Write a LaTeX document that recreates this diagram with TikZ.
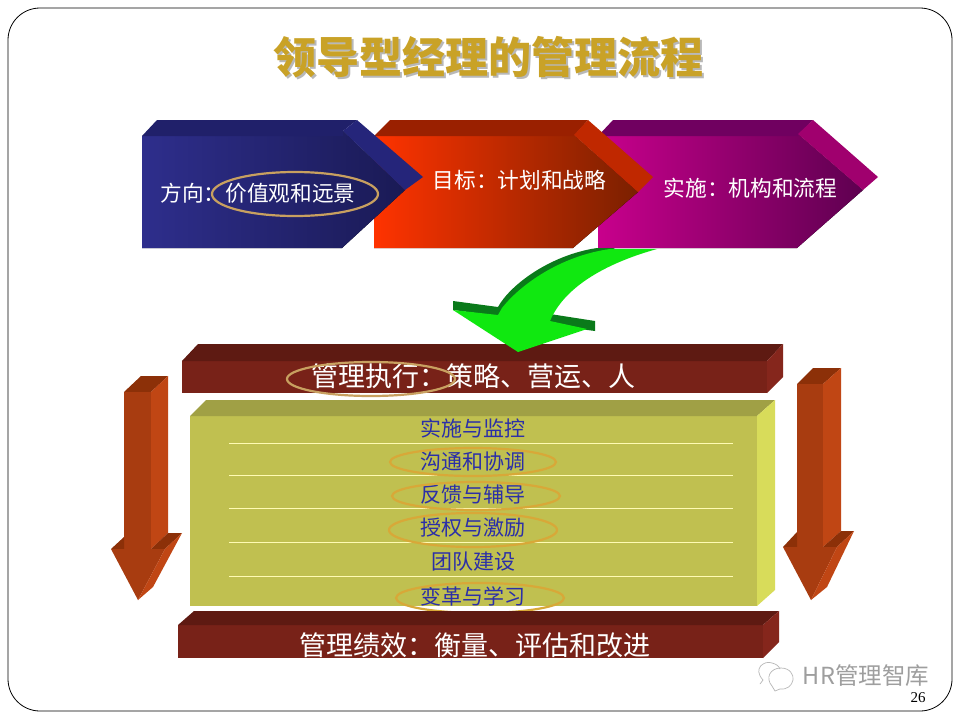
\documentclass[tikz,border=0pt]{standalone}
\usepackage{fontspec}
\setmainfont{Noto Sans CJK SC}
\newfontfamily\numfont{Liberation Serif}
\usetikzlibrary{shapes.geometric}

\definecolor{barTop}{HTML}{5E1A12}
\definecolor{barFront}{HTML}{782218}
\definecolor{barSide}{HTML}{85261C}
\definecolor{arrowFront}{HTML}{A83C10}
\definecolor{arrowSide}{HTML}{C04614}
\definecolor{arrowDark}{HTML}{8C3008}
\definecolor{titleGold}{HTML}{C9A227}
\definecolor{ringTan}{HTML}{C8A060}
\definecolor{ringGold}{HTML}{D8A838}
\definecolor{itemBlue}{HTML}{2B2FA8}
\definecolor{oliveFront}{HTML}{C0C050}
\definecolor{oliveTop}{HTML}{A0A045}
\definecolor{oliveSide}{HTML}{D8DC5A}
\definecolor{arrowGreen}{HTML}{10E810}
\definecolor{arrowGreenDark}{HTML}{0A7A1A}
\definecolor{blueLeft}{HTML}{2E2E8C}
\definecolor{blueRight}{HTML}{1A1A55}
\definecolor{blueTop}{HTML}{20206A}
\definecolor{blueSide}{HTML}{25257A}
\definecolor{redLeft}{HTML}{FF3300}
\definecolor{redRight}{HTML}{7A2000}
\definecolor{redTop}{HTML}{9A2000}
\definecolor{redSide}{HTML}{C02800}
\definecolor{purpleLeft}{HTML}{C8008C}
\definecolor{purpleRight}{HTML}{5E0050}
\definecolor{purpleTop}{HTML}{700060}
\definecolor{purpleSide}{HTML}{A0006E}

\newcommand{\titletext}{领导型经理的管理流程}
\newcommand{\widecolon}{\char"FF1A\relax}

\begin{document}
\begin{tikzpicture}[
    x=1pt, y=-1pt,
    label_title/.style={font=\bfseries\fontsize{43}{48}\selectfont, inner sep=0pt},
    label_step/.style={font=\fontsize{21.7}{26}\selectfont, text=white, inner sep=0pt},
    label_bar/.style={font=\fontsize{27}{31}\selectfont, text=white, inner sep=0pt},
    label_item/.style={font=\fontsize{21}{25}\selectfont, text=itemBlue, inner sep=0pt},
    ring/.style={ellipse, draw=ringGold, line width=2.2pt, inner sep=0pt},
    rule_line/.style={draw=white!70!yellow, line width=0.9pt},
    mark_line/.style={draw=black!28, line width=0.7pt}
]
    \useasboundingbox (0,0) rectangle (960,720);
    \fill[white] (0,0) rectangle (960,720);
    \draw[black, line width=0.8pt, rounded corners=32pt] (8,8) rectangle (952,711);

    % Title
    \node[label_title] (title) at (488,58)
        {\rlap{\kern2pt\raisebox{-2pt}{\color{black!28}\titletext}}\color{titleGold}\titletext};

    % Third step
    \fill[left color=purpleLeft, right color=purpleRight]
        (598,136) -- (798,136) -- (798,134) -- (863,190) -- (797,248) -- (598,248) -- cycle;
    \fill[purpleTop] (598,136) -- (613,120) -- (813,120) -- (798,136) -- cycle;
    \fill[purpleSide] (813,120) -- (878,177) -- (863,190) -- (798,134) -- cycle;

    % Second step
    \fill[left color=redLeft, right color=redRight]
        (374,136) -- (574,136) -- (574,135) -- (638,192) -- (573,248) -- (374,248) -- cycle;
    \fill[redTop] (374,136) -- (390,120) -- (588,120) -- (574,136) -- cycle;
    \fill[redSide] (588,120) -- (653,177) -- (638,192) -- (574,135) -- cycle;

    % First step
    \fill[left color=blueLeft, right color=blueRight]
        (142,136) -- (343,136) -- (343,131) -- (405,190) -- (342,248) -- (142,248) -- cycle;
    \fill[blueTop] (142,136) -- (157,120) -- (357,120) -- (343,131) -- (343,136) -- cycle;
    \fill[blueSide] (357,120) -- (423,177) -- (405,190) -- (343,131) -- cycle;

    % Step labels
    \node[label_step] (direction) at (258,193) {方向\widecolon 价值观和远景};
    \node[label_step] (target) at (519.5,180) {目标\widecolon 计划和战略};
    \node[label_step] (action) at (750.5,188) {实施\widecolon 机构和流程};
    \node[ring, draw=ringTan, minimum width=166pt, minimum height=44pt] (ring_direction) at (295,194) {};

    % Upper bar
    \fill[barFront] (182,361) rectangle (767,393);
    \fill[barTop] (182,361) -- (198,344) -- (783,344) -- (767,361) -- cycle;
    \fill[barSide] (767,361) -- (783,344) -- (783,377) -- (767,393) -- cycle;
    \node[label_bar] (execute) at (473.5,376) {管理执行\widecolon 策略、营运、人};
    \node[ring, draw=ringTan, minimum width=168pt, minimum height=34pt] (ring_execute) at (371,379) {};

    % Green arrow
    \fill[arrowGreenDark] (453,301) -- (498,307)
        .. controls (510,285) and (550,255) .. (597,248) -- (615,248)
        -- (540,290) -- (498,316) -- (453,310) -- cycle;
    \fill[arrowGreenDark] (550,314) -- (595,321) -- (595,331) -- (550,325) -- cycle;
    \fill[arrowGreen] (453,310) -- (498,315) -- (502,308)
        .. controls (520,285) and (560,256) .. (610,249) -- (657,249)
        .. controls (610,262) and (565,285) .. (550,321)
        -- (587,329) -- (518,352) -- cycle;

    % Olive box
    \fill[oliveFront] (190,416) rectangle (757,606);
    \fill[oliveTop] (190,416) -- (206,400) -- (775,400) -- (757,416) -- cycle;
    \fill[oliveSide] (757,416) -- (775,400) -- (775,590) -- (757,606) -- cycle;
    \foreach \ypos in {443,475,508,542,576}
        \draw[rule_line] (229,\ypos) -- (733,\ypos);

    % Items of the box
    \node[label_item] (item_a) at (473,428) {实施与监控};
    \node[label_item] (item_b) at (473,462) {沟通和协调};
    \node[label_item] (item_c) at (473,495) {反馈与辅导};
    \node[label_item] (item_d) at (473,528) {授权与激励};
    \node[label_item] (item_e) at (473,562) {团队建设};
    \node[label_item] (item_f) at (473,596) {变革与学习};
    \node[ring, minimum width=166pt, minimum height=28pt] (ring_b) at (473,462) {};
    \node[ring, minimum width=168pt, minimum height=28pt] (ring_c) at (476,496) {};
    \node[ring, minimum width=168pt, minimum height=34pt] (ring_d) at (473,530) {};
    \node[ring, minimum width=168pt, minimum height=30pt] (ring_f) at (480,598) {};

    % Lower bar
    \fill[barFront] (178,625) rectangle (763,658);
    \fill[barTop] (178,625) -- (194,611) -- (779,611) -- (763,625) -- cycle;
    \fill[barSide] (763,625) -- (779,611) -- (779,642) -- (763,658) -- cycle;
    \node[label_bar] (result) at (475,645) {管理绩效\widecolon 衡量、评估和改进};

    % Left arrow
    \fill[arrowDark] (124,392) -- (141,376) -- (168,376) -- (151,392) -- cycle;
    \fill[arrowFront] (124,392) rectangle (151,549);
    \fill[arrowSide] (151,392) -- (168,376) -- (168,533) -- (151,549) -- cycle;
    \fill[arrowDark] (111,549) -- (124,537) -- (124,549) -- cycle;
    \fill[arrowDark] (151,549) -- (168,533) -- (182,533) -- (165,549) -- cycle;
    \fill[arrowFront] (111,549) -- (165,549) -- (138,600) -- cycle;
    \fill[arrowSide] (165,549) -- (182,533) -- (153,587) -- (138,600) -- cycle;

    % Right arrow
    \fill[arrowDark] (797,384) -- (813,368) -- (841,368) -- (823,384) -- cycle;
    \fill[arrowFront] (797,384) rectangle (823,547);
    \fill[arrowSide] (823,384) -- (841,368) -- (841,531) -- (823,547) -- cycle;
    \fill[arrowDark] (783,547) -- (797,532) -- (797,547) -- cycle;
    \fill[arrowDark] (823,547) -- (841,531) -- (854,531) -- (837,547) -- cycle;
    \fill[arrowFront] (783,547) -- (837,547) -- (811,600) -- cycle;
    \fill[arrowSide] (837,547) -- (854,531) -- (827,587) -- (811,600) -- cycle;

    % Corner mark
    \draw[mark_line] (760,684) -- (763,680) .. controls (752,668) and (765,660) .. (772,663)
        .. controls (776,664) and (779,666) .. (780,669);
    \draw[mark_line] (772,686) .. controls (765,678) and (770,668) .. (781,668)
        .. controls (790,668) and (794,675) .. (793,680)
        .. controls (792,686) and (786,690) .. (780,689) -- (775,691) -- cycle;
    \node[font=\fontsize{23.5}{26}\selectfont, text=black!38, inner sep=0pt] (mark) at (866,676) {HR管理智库};
    \node[font=\numfont\fontsize{15}{17}\selectfont, text=black, inner sep=0pt] (page) at (918,698) {26};
\end{tikzpicture}
\end{document}
